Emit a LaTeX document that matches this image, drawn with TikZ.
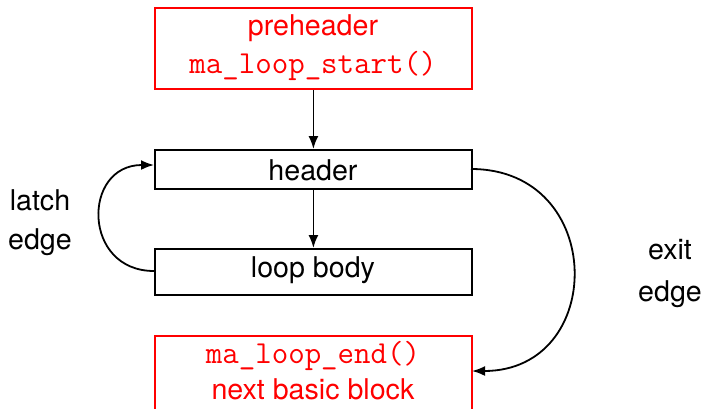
\documentclass[tikz,border=0pt]{standalone}
\usepackage{fontspec}
\setmainfont{TeX Gyre Heros}
\setsansfont{TeX Gyre Heros}
\usetikzlibrary{arrows.meta}
\definecolor{blockred}{RGB}{255,0,0}
\tikzset{
  blk/.style={draw, line width=0.9pt, minimum width=158.5pt, inner sep=0pt},
  redblk/.style={blk, draw=blockred},
  lbl/.style={font=\fontsize{14.3}{17}\selectfont, inner sep=0pt},
  redlbl/.style={lbl, text=blockred},
  codelbl/.style={inner sep=0pt, text=blockred, font=\fontsize{16}{19}\selectfont\ttfamily},
  flow/.style={line width=0.9pt, -{Latex[length=6.5pt, width=5pt]}},
}
\begin{document}
\begin{tikzpicture}[x=0.5pt, y=-0.5pt]
  \useasboundingbox (0,0) rectangle (703,408);
  \clip (0,0) rectangle (703,408);
  % blocks
  \node[redblk, minimum height=40.5pt, anchor=north west] (pre) at (154,7) {};
  \node[blk, minimum height=19.5pt, anchor=north west] (hdr) at (154,149) {};
  \node[blk, minimum height=23pt, anchor=north west] (body) at (154,248) {};
  \node[redblk, minimum height=45pt, anchor=north west] (post) at (154,335) {};
  % block texts
  \node[redlbl] (pretxt) at (313,28) {preheader};
  \node[codelbl] (precode) at (313,66) {ma\_loop\_start()};
  \node[lbl] (hdrtxt) at (313,170) {header};
  \node[lbl] (bodytxt) at (313,270) {loop body};
  \node[codelbl] (postcode) at (313,356) {ma\_loop\_end()};
  \node[redlbl] (posttxt) at (313,389) {next basic block};
  % edge labels
  \node[lbl] (latch1) at (40,200) {latch};
  \node[lbl] (latch2) at (40,242) {edge};
  \node[lbl] (exit1) at (670,250) {exit};
  \node[lbl] (exit2) at (670,294) {edge};
  % connectors
  \draw[flow] (pre.south) -- (hdr.north);
  \draw[flow] (hdr.south) -- (body.north);
  \coordinate (latchfrom) at (154,271);
  \coordinate (latchto) at (154,165);
  \draw[flow] (latchfrom) .. controls (82,271) and (82,165) .. (latchto);
  \coordinate (exitfrom) at (471,169);
  \coordinate (exitto) at (472,371);
  \draw[flow] (exitfrom) .. controls (607,169) and (607,371) .. (exitto);
\end{tikzpicture}
\end{document}
